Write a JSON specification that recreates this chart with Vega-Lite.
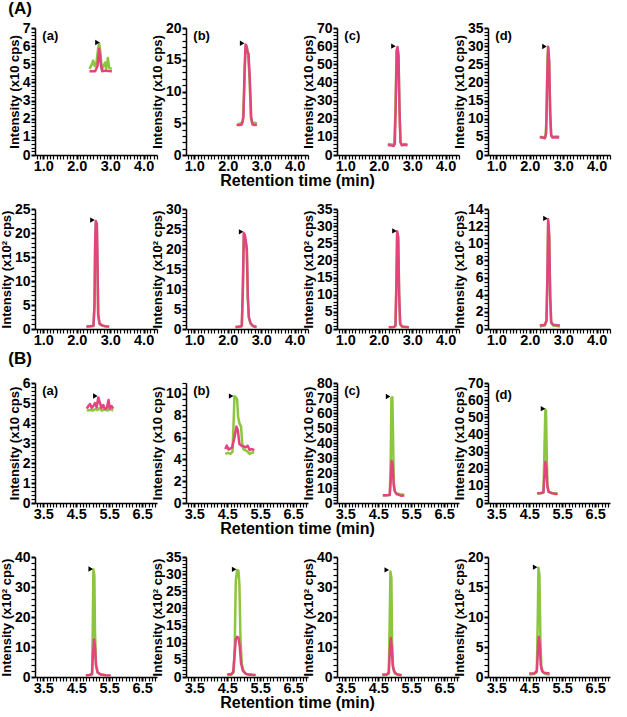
{
"$schema": "https://vega.github.io/schema/vega-lite/v6.json",
"padding": {"left": 0, "top": 0, "right": 2, "bottom": 2},
"background": "white",
"datasets": {
"tr": [
{"p":"A1a","s":"g","t":2.38,"v":4.75},{"p":"A1a","s":"g","t":2.44,"v":4.95},{"p":"A1a","s":"g","t":2.49,"v":5.2},{"p":"A1a","s":"g","t":2.54,"v":4.9},{"p":"A1a","s":"g","t":2.59,"v":5.1},{"p":"A1a","s":"g","t":2.64,"v":5.9},{"p":"A1a","s":"g","t":2.67,"v":6.15},{"p":"A1a","s":"g","t":2.71,"v":5.6},{"p":"A1a","s":"g","t":2.75,"v":4.7},{"p":"A1a","s":"g","t":2.8,"v":4.9},{"p":"A1a","s":"g","t":2.85,"v":5.1},{"p":"A1a","s":"g","t":2.88,"v":4.75},{"p":"A1a","s":"g","t":2.93,"v":5.35},{"p":"A1a","s":"g","t":2.97,"v":4.8},{"p":"A1a","s":"g","t":3.05,"v":4.75},
{"p":"A1a","s":"p","t":2.38,"v":4.62},{"p":"A1a","s":"p","t":2.55,"v":4.62},{"p":"A1a","s":"p","t":2.62,"v":4.9},{"p":"A1a","s":"p","t":2.67,"v":5.85},{"p":"A1a","s":"p","t":2.72,"v":5.0},{"p":"A1a","s":"p","t":2.76,"v":4.62},{"p":"A1a","s":"p","t":2.85,"v":4.65},{"p":"A1a","s":"p","t":3.05,"v":4.62},
{"p":"A1b","s":"g","t":2.27,"v":4.6},{"p":"A1b","s":"g","t":2.35,"v":4.9},{"p":"A1b","s":"g","t":2.45,"v":5.2},{"p":"A1b","s":"g","t":2.49,"v":10},{"p":"A1b","s":"g","t":2.53,"v":16.8},{"p":"A1b","s":"g","t":2.57,"v":17.0},{"p":"A1b","s":"g","t":2.61,"v":15.8},{"p":"A1b","s":"g","t":2.65,"v":12},{"p":"A1b","s":"g","t":2.69,"v":6},{"p":"A1b","s":"g","t":2.73,"v":5.0},{"p":"A1b","s":"g","t":2.8,"v":5.1},{"p":"A1b","s":"g","t":2.87,"v":4.9},
{"p":"A1b","s":"p","t":2.27,"v":4.8},{"p":"A1b","s":"p","t":2.35,"v":4.7},{"p":"A1b","s":"p","t":2.42,"v":4.8},{"p":"A1b","s":"p","t":2.47,"v":6},{"p":"A1b","s":"p","t":2.5,"v":13},{"p":"A1b","s":"p","t":2.53,"v":17.4},{"p":"A1b","s":"p","t":2.56,"v":17.2},{"p":"A1b","s":"p","t":2.59,"v":16.2},{"p":"A1b","s":"p","t":2.62,"v":16.0},{"p":"A1b","s":"p","t":2.66,"v":12},{"p":"A1b","s":"p","t":2.7,"v":6},{"p":"A1b","s":"p","t":2.74,"v":4.8},{"p":"A1b","s":"p","t":2.8,"v":4.7},{"p":"A1b","s":"p","t":2.87,"v":4.8},
{"p":"A1c","s":"g","t":2.27,"v":6.0},{"p":"A1c","s":"g","t":2.4,"v":5.8},{"p":"A1c","s":"g","t":2.46,"v":5.6},{"p":"A1c","s":"g","t":2.5,"v":25},{"p":"A1c","s":"g","t":2.53,"v":57},{"p":"A1c","s":"g","t":2.56,"v":59},{"p":"A1c","s":"g","t":2.59,"v":54},{"p":"A1c","s":"g","t":2.62,"v":24},{"p":"A1c","s":"g","t":2.65,"v":7},{"p":"A1c","s":"g","t":2.7,"v":5.8},{"p":"A1c","s":"g","t":2.8,"v":6.0},{"p":"A1c","s":"g","t":2.86,"v":5.8},
{"p":"A1c","s":"p","t":2.27,"v":5.5},{"p":"A1c","s":"p","t":2.35,"v":5.3},{"p":"A1c","s":"p","t":2.44,"v":5.0},{"p":"A1c","s":"p","t":2.48,"v":6},{"p":"A1c","s":"p","t":2.51,"v":30},{"p":"A1c","s":"p","t":2.54,"v":58},{"p":"A1c","s":"p","t":2.56,"v":59.5},{"p":"A1c","s":"p","t":2.59,"v":55},{"p":"A1c","s":"p","t":2.62,"v":25},{"p":"A1c","s":"p","t":2.65,"v":7},{"p":"A1c","s":"p","t":2.69,"v":5.3},{"p":"A1c","s":"p","t":2.78,"v":5.6},{"p":"A1c","s":"p","t":2.86,"v":5.4},
{"p":"A1d","s":"g","t":2.3,"v":5.0},{"p":"A1d","s":"g","t":2.4,"v":4.9},{"p":"A1d","s":"g","t":2.47,"v":5.0},{"p":"A1d","s":"g","t":2.5,"v":10},{"p":"A1d","s":"g","t":2.53,"v":27},{"p":"A1d","s":"g","t":2.55,"v":29.5},{"p":"A1d","s":"g","t":2.58,"v":25},{"p":"A1d","s":"g","t":2.61,"v":11},{"p":"A1d","s":"g","t":2.64,"v":5.3},{"p":"A1d","s":"g","t":2.7,"v":5.0},{"p":"A1d","s":"g","t":2.8,"v":5.1},{"p":"A1d","s":"g","t":2.88,"v":5.0},
{"p":"A1d","s":"p","t":2.3,"v":4.9},{"p":"A1d","s":"p","t":2.38,"v":4.8},{"p":"A1d","s":"p","t":2.45,"v":4.6},{"p":"A1d","s":"p","t":2.49,"v":6},{"p":"A1d","s":"p","t":2.52,"v":20},{"p":"A1d","s":"p","t":2.55,"v":29.8},{"p":"A1d","s":"p","t":2.58,"v":26},{"p":"A1d","s":"p","t":2.61,"v":12},{"p":"A1d","s":"p","t":2.64,"v":5.5},{"p":"A1d","s":"p","t":2.68,"v":4.8},{"p":"A1d","s":"p","t":2.78,"v":4.9},{"p":"A1d","s":"p","t":2.88,"v":4.8},
{"p":"A2a","s":"g","t":2.29,"v":0.4},{"p":"A2a","s":"g","t":2.4,"v":0.5},{"p":"A2a","s":"g","t":2.5,"v":0.6},{"p":"A2a","s":"g","t":2.53,"v":5},{"p":"A2a","s":"g","t":2.55,"v":17},{"p":"A2a","s":"g","t":2.57,"v":22},{"p":"A2a","s":"g","t":2.6,"v":21.5},{"p":"A2a","s":"g","t":2.62,"v":13},{"p":"A2a","s":"g","t":2.64,"v":3},{"p":"A2a","s":"g","t":2.68,"v":1.0},{"p":"A2a","s":"g","t":2.75,"v":0.7},{"p":"A2a","s":"g","t":2.85,"v":0.5},{"p":"A2a","s":"g","t":2.97,"v":0.4},
{"p":"A2a","s":"p","t":2.29,"v":0.5},{"p":"A2a","s":"p","t":2.4,"v":0.6},{"p":"A2a","s":"p","t":2.5,"v":0.7},{"p":"A2a","s":"p","t":2.53,"v":5},{"p":"A2a","s":"p","t":2.55,"v":18},{"p":"A2a","s":"p","t":2.57,"v":22.5},{"p":"A2a","s":"p","t":2.6,"v":22},{"p":"A2a","s":"p","t":2.62,"v":14},{"p":"A2a","s":"p","t":2.64,"v":3},{"p":"A2a","s":"p","t":2.68,"v":1.2},{"p":"A2a","s":"p","t":2.75,"v":0.8},{"p":"A2a","s":"p","t":2.85,"v":0.6},{"p":"A2a","s":"p","t":2.97,"v":0.5},
{"p":"A2b","s":"g","t":2.23,"v":0.4},{"p":"A2b","s":"g","t":2.35,"v":0.5},{"p":"A2b","s":"g","t":2.42,"v":0.7},{"p":"A2b","s":"g","t":2.45,"v":9},{"p":"A2b","s":"g","t":2.48,"v":23.5},{"p":"A2b","s":"g","t":2.51,"v":23},{"p":"A2b","s":"g","t":2.54,"v":21.5},{"p":"A2b","s":"g","t":2.57,"v":19.5},{"p":"A2b","s":"g","t":2.6,"v":7.5},{"p":"A2b","s":"g","t":2.63,"v":2.8},{"p":"A2b","s":"g","t":2.68,"v":1.3},{"p":"A2b","s":"g","t":2.75,"v":0.7},{"p":"A2b","s":"g","t":2.86,"v":0.4},
{"p":"A2b","s":"p","t":2.23,"v":0.5},{"p":"A2b","s":"p","t":2.35,"v":0.6},{"p":"A2b","s":"p","t":2.42,"v":0.8},{"p":"A2b","s":"p","t":2.45,"v":10},{"p":"A2b","s":"p","t":2.48,"v":24},{"p":"A2b","s":"p","t":2.51,"v":23.5},{"p":"A2b","s":"p","t":2.54,"v":22},{"p":"A2b","s":"p","t":2.57,"v":20},{"p":"A2b","s":"p","t":2.6,"v":8},{"p":"A2b","s":"p","t":2.63,"v":3},{"p":"A2b","s":"p","t":2.68,"v":1.5},{"p":"A2b","s":"p","t":2.75,"v":0.8},{"p":"A2b","s":"p","t":2.86,"v":0.5},
{"p":"A2c","s":"g","t":2.3,"v":0.4},{"p":"A2c","s":"g","t":2.45,"v":0.5},{"p":"A2c","s":"g","t":2.5,"v":0.9},{"p":"A2c","s":"g","t":2.53,"v":14},{"p":"A2c","s":"g","t":2.55,"v":28},{"p":"A2c","s":"g","t":2.58,"v":26.5},{"p":"A2c","s":"g","t":2.61,"v":9.5},{"p":"A2c","s":"g","t":2.64,"v":1.3},{"p":"A2c","s":"g","t":2.7,"v":0.6},{"p":"A2c","s":"g","t":2.9,"v":0.4},
{"p":"A2c","s":"p","t":2.3,"v":0.5},{"p":"A2c","s":"p","t":2.45,"v":0.6},{"p":"A2c","s":"p","t":2.5,"v":1},{"p":"A2c","s":"p","t":2.53,"v":15},{"p":"A2c","s":"p","t":2.55,"v":28.5},{"p":"A2c","s":"p","t":2.58,"v":27},{"p":"A2c","s":"p","t":2.61,"v":10},{"p":"A2c","s":"p","t":2.64,"v":1.5},{"p":"A2c","s":"p","t":2.7,"v":0.7},{"p":"A2c","s":"p","t":2.9,"v":0.5},
{"p":"A2d","s":"g","t":2.3,"v":0.3},{"p":"A2d","s":"g","t":2.45,"v":0.4},{"p":"A2d","s":"g","t":2.5,"v":0.9},{"p":"A2d","s":"g","t":2.53,"v":6.5},{"p":"A2d","s":"g","t":2.55,"v":12.5},{"p":"A2d","s":"g","t":2.58,"v":10.8},{"p":"A2d","s":"g","t":2.61,"v":3.8},{"p":"A2d","s":"g","t":2.64,"v":0.7},{"p":"A2d","s":"g","t":2.7,"v":0.4},{"p":"A2d","s":"g","t":2.9,"v":0.3},
{"p":"A2d","s":"p","t":2.3,"v":0.4},{"p":"A2d","s":"p","t":2.45,"v":0.5},{"p":"A2d","s":"p","t":2.5,"v":1},{"p":"A2d","s":"p","t":2.53,"v":7},{"p":"A2d","s":"p","t":2.55,"v":12.8},{"p":"A2d","s":"p","t":2.58,"v":11},{"p":"A2d","s":"p","t":2.61,"v":4},{"p":"A2d","s":"p","t":2.64,"v":0.8},{"p":"A2d","s":"p","t":2.7,"v":0.5},{"p":"A2d","s":"p","t":2.9,"v":0.4},
{"p":"B1a","s":"g","t":4.82,"v":4.62},{"p":"B1a","s":"g","t":4.9,"v":4.65},{"p":"B1a","s":"g","t":5.0,"v":4.62},{"p":"B1a","s":"g","t":5.08,"v":4.7},{"p":"B1a","s":"g","t":5.15,"v":4.65},{"p":"B1a","s":"g","t":5.2,"v":4.75},{"p":"B1a","s":"g","t":5.28,"v":4.62},{"p":"B1a","s":"g","t":5.35,"v":4.68},{"p":"B1a","s":"g","t":5.45,"v":4.62},{"p":"B1a","s":"g","t":5.52,"v":4.7},{"p":"B1a","s":"g","t":5.62,"v":4.62},
{"p":"B1a","s":"p","t":4.82,"v":4.72},{"p":"B1a","s":"p","t":4.87,"v":4.85},{"p":"B1a","s":"p","t":4.92,"v":4.95},{"p":"B1a","s":"p","t":4.97,"v":4.75},{"p":"B1a","s":"p","t":5.02,"v":4.85},{"p":"B1a","s":"p","t":5.07,"v":5.0},{"p":"B1a","s":"p","t":5.12,"v":4.78},{"p":"B1a","s":"p","t":5.17,"v":5.28},{"p":"B1a","s":"p","t":5.22,"v":5.0},{"p":"B1a","s":"p","t":5.27,"v":4.75},{"p":"B1a","s":"p","t":5.32,"v":4.9},{"p":"B1a","s":"p","t":5.37,"v":4.7},{"p":"B1a","s":"p","t":5.43,"v":4.75},{"p":"B1a","s":"p","t":5.48,"v":5.15},{"p":"B1a","s":"p","t":5.52,"v":4.72},{"p":"B1a","s":"p","t":5.57,"v":4.85},{"p":"B1a","s":"p","t":5.62,"v":4.72},
{"p":"B1b","s":"g","t":4.44,"v":4.5},{"p":"B1b","s":"g","t":4.52,"v":4.6},{"p":"B1b","s":"g","t":4.6,"v":4.5},{"p":"B1b","s":"g","t":4.66,"v":4.7},{"p":"B1b","s":"g","t":4.69,"v":7},{"p":"B1b","s":"g","t":4.72,"v":9.8},{"p":"B1b","s":"g","t":4.76,"v":9.7},{"p":"B1b","s":"g","t":4.8,"v":9.5},{"p":"B1b","s":"g","t":4.83,"v":7.9},{"p":"B1b","s":"g","t":4.87,"v":7.3},{"p":"B1b","s":"g","t":4.92,"v":7.0},{"p":"B1b","s":"g","t":4.96,"v":5.2},{"p":"B1b","s":"g","t":5.0,"v":4.9},{"p":"B1b","s":"g","t":5.08,"v":4.8},{"p":"B1b","s":"g","t":5.18,"v":4.5},{"p":"B1b","s":"g","t":5.27,"v":4.65},{"p":"B1b","s":"g","t":5.32,"v":4.6},
{"p":"B1b","s":"p","t":4.44,"v":4.95},{"p":"B1b","s":"p","t":4.49,"v":5.26},{"p":"B1b","s":"p","t":4.54,"v":4.9},{"p":"B1b","s":"p","t":4.6,"v":5.0},{"p":"B1b","s":"p","t":4.65,"v":5.1},{"p":"B1b","s":"p","t":4.72,"v":6.0},{"p":"B1b","s":"p","t":4.78,"v":7.0},{"p":"B1b","s":"p","t":4.82,"v":6.7},{"p":"B1b","s":"p","t":4.87,"v":5.4},{"p":"B1b","s":"p","t":4.93,"v":5.26},{"p":"B1b","s":"p","t":5.0,"v":5.2},{"p":"B1b","s":"p","t":5.06,"v":5.1},{"p":"B1b","s":"p","t":5.12,"v":5.25},{"p":"B1b","s":"p","t":5.18,"v":4.85},{"p":"B1b","s":"p","t":5.24,"v":4.95},{"p":"B1b","s":"p","t":5.32,"v":4.85},
{"p":"B1c","s":"g","t":4.64,"v":5},{"p":"B1c","s":"g","t":4.75,"v":5.2},{"p":"B1c","s":"g","t":4.85,"v":5.5},{"p":"B1c","s":"g","t":4.88,"v":30},{"p":"B1c","s":"g","t":4.9,"v":70},{"p":"B1c","s":"g","t":4.93,"v":70.5},{"p":"B1c","s":"g","t":4.95,"v":45},{"p":"B1c","s":"g","t":4.97,"v":15},{"p":"B1c","s":"g","t":5.0,"v":8},{"p":"B1c","s":"g","t":5.05,"v":6.5},{"p":"B1c","s":"g","t":5.15,"v":5.8},{"p":"B1c","s":"g","t":5.29,"v":5.5},
{"p":"B1c","s":"p","t":4.64,"v":5.2},{"p":"B1c","s":"p","t":4.75,"v":5.1},{"p":"B1c","s":"p","t":4.85,"v":5.3},{"p":"B1c","s":"p","t":4.88,"v":15},{"p":"B1c","s":"p","t":4.91,"v":28},{"p":"B1c","s":"p","t":4.94,"v":25},{"p":"B1c","s":"p","t":4.97,"v":12},{"p":"B1c","s":"p","t":5.0,"v":8},{"p":"B1c","s":"p","t":5.05,"v":6},{"p":"B1c","s":"p","t":5.15,"v":5.2},{"p":"B1c","s":"p","t":5.2,"v":4.8},{"p":"B1c","s":"p","t":5.29,"v":5.0},
{"p":"B1d","s":"g","t":4.74,"v":5.5},{"p":"B1d","s":"g","t":4.85,"v":5.6},{"p":"B1d","s":"g","t":4.93,"v":6},{"p":"B1d","s":"g","t":4.96,"v":30},{"p":"B1d","s":"g","t":4.99,"v":54.5},{"p":"B1d","s":"g","t":5.01,"v":54},{"p":"B1d","s":"g","t":5.03,"v":30},{"p":"B1d","s":"g","t":5.05,"v":10},{"p":"B1d","s":"g","t":5.09,"v":6.5},{"p":"B1d","s":"g","t":5.2,"v":5.8},{"p":"B1d","s":"g","t":5.36,"v":5.5},
{"p":"B1d","s":"p","t":4.74,"v":5.7},{"p":"B1d","s":"p","t":4.85,"v":5.8},{"p":"B1d","s":"p","t":4.93,"v":6.2},{"p":"B1d","s":"p","t":4.96,"v":15},{"p":"B1d","s":"p","t":4.99,"v":24},{"p":"B1d","s":"p","t":5.02,"v":21},{"p":"B1d","s":"p","t":5.05,"v":10},{"p":"B1d","s":"p","t":5.09,"v":6.5},{"p":"B1d","s":"p","t":5.2,"v":5.6},{"p":"B1d","s":"p","t":5.3,"v":5.2},{"p":"B1d","s":"p","t":5.36,"v":5.4},
{"p":"B2a","s":"g","t":4.9,"v":0.5},{"p":"B2a","s":"g","t":4.98,"v":0.8},{"p":"B2a","s":"g","t":5.0,"v":15},{"p":"B2a","s":"g","t":5.02,"v":35.8},{"p":"B2a","s":"g","t":5.05,"v":34},{"p":"B2a","s":"g","t":5.07,"v":15},{"p":"B2a","s":"g","t":5.1,"v":4},{"p":"B2a","s":"g","t":5.15,"v":1.5},{"p":"B2a","s":"g","t":5.25,"v":0.8},{"p":"B2a","s":"g","t":5.4,"v":0.5},{"p":"B2a","s":"g","t":5.5,"v":0.4},
{"p":"B2a","s":"p","t":4.79,"v":0.6},{"p":"B2a","s":"p","t":4.9,"v":0.7},{"p":"B2a","s":"p","t":4.98,"v":1},{"p":"B2a","s":"p","t":5.01,"v":8},{"p":"B2a","s":"p","t":5.04,"v":12.5},{"p":"B2a","s":"p","t":5.07,"v":10},{"p":"B2a","s":"p","t":5.1,"v":4},{"p":"B2a","s":"p","t":5.15,"v":1.5},{"p":"B2a","s":"p","t":5.25,"v":0.8},{"p":"B2a","s":"p","t":5.4,"v":0.6},{"p":"B2a","s":"p","t":5.55,"v":0.5},
{"p":"B2b","s":"g","t":4.5,"v":0.5},{"p":"B2b","s":"g","t":4.62,"v":0.6},{"p":"B2b","s":"g","t":4.7,"v":1.5},{"p":"B2b","s":"g","t":4.73,"v":10},{"p":"B2b","s":"g","t":4.76,"v":28},{"p":"B2b","s":"g","t":4.8,"v":31.2},{"p":"B2b","s":"g","t":4.84,"v":31.0},{"p":"B2b","s":"g","t":4.87,"v":27},{"p":"B2b","s":"g","t":4.9,"v":12},{"p":"B2b","s":"g","t":4.94,"v":4},{"p":"B2b","s":"g","t":5.0,"v":1.5},{"p":"B2b","s":"g","t":5.1,"v":0.8},{"p":"B2b","s":"g","t":5.25,"v":0.6},{"p":"B2b","s":"g","t":5.36,"v":0.5},
{"p":"B2b","s":"p","t":4.5,"v":0.8},{"p":"B2b","s":"p","t":4.62,"v":0.8},{"p":"B2b","s":"p","t":4.68,"v":1.5},{"p":"B2b","s":"p","t":4.72,"v":6},{"p":"B2b","s":"p","t":4.76,"v":11},{"p":"B2b","s":"p","t":4.8,"v":11.7},{"p":"B2b","s":"p","t":4.84,"v":11.5},{"p":"B2b","s":"p","t":4.88,"v":9},{"p":"B2b","s":"p","t":4.92,"v":4},{"p":"B2b","s":"p","t":4.97,"v":2},{"p":"B2b","s":"p","t":5.05,"v":1},{"p":"B2b","s":"p","t":5.15,"v":0.7},{"p":"B2b","s":"p","t":5.36,"v":0.6},
{"p":"B2c","s":"g","t":4.62,"v":0.5},{"p":"B2c","s":"g","t":4.75,"v":0.6},{"p":"B2c","s":"g","t":4.82,"v":1},{"p":"B2c","s":"g","t":4.85,"v":20},{"p":"B2c","s":"g","t":4.87,"v":35.2},{"p":"B2c","s":"g","t":4.9,"v":33},{"p":"B2c","s":"g","t":4.92,"v":12},{"p":"B2c","s":"g","t":4.95,"v":3},{"p":"B2c","s":"g","t":5.0,"v":1.2},{"p":"B2c","s":"g","t":5.1,"v":0.7},{"p":"B2c","s":"g","t":5.21,"v":0.5},
{"p":"B2c","s":"p","t":4.62,"v":0.8},{"p":"B2c","s":"p","t":4.75,"v":0.8},{"p":"B2c","s":"p","t":4.82,"v":1.5},{"p":"B2c","s":"p","t":4.85,"v":8},{"p":"B2c","s":"p","t":4.88,"v":13},{"p":"B2c","s":"p","t":4.91,"v":10},{"p":"B2c","s":"p","t":4.94,"v":4},{"p":"B2c","s":"p","t":4.98,"v":2},{"p":"B2c","s":"p","t":5.05,"v":1},{"p":"B2c","s":"p","t":5.21,"v":0.6},
{"p":"B2d","s":"g","t":4.5,"v":0.4},{"p":"B2d","s":"g","t":4.65,"v":0.5},{"p":"B2d","s":"g","t":4.73,"v":0.8},{"p":"B2d","s":"g","t":4.76,"v":10},{"p":"B2d","s":"g","t":4.78,"v":18.2},{"p":"B2d","s":"g","t":4.81,"v":17},{"p":"B2d","s":"g","t":4.84,"v":6},{"p":"B2d","s":"g","t":4.87,"v":1.5},{"p":"B2d","s":"g","t":4.92,"v":0.8},{"p":"B2d","s":"g","t":5.0,"v":0.5},{"p":"B2d","s":"g","t":5.12,"v":0.4},
{"p":"B2d","s":"p","t":4.5,"v":0.6},{"p":"B2d","s":"p","t":4.65,"v":0.6},{"p":"B2d","s":"p","t":4.73,"v":1},{"p":"B2d","s":"p","t":4.76,"v":4},{"p":"B2d","s":"p","t":4.79,"v":6.7},{"p":"B2d","s":"p","t":4.82,"v":5.5},{"p":"B2d","s":"p","t":4.85,"v":2},{"p":"B2d","s":"p","t":4.89,"v":1},{"p":"B2d","s":"p","t":4.95,"v":0.7},{"p":"B2d","s":"p","t":5.12,"v":0.6}
],
"mk": [
{"p":"A1a","t":2.62,"v":6.2},{"p":"A1b","t":2.43,"v":17.6},{"p":"A1c","t":2.44,"v":60},{"p":"A1d","t":2.44,"v":29.9},
{"p":"A2a","t":2.47,"v":22.7},{"p":"A2b","t":2.4,"v":24.3},{"p":"A2c","t":2.47,"v":28.6},{"p":"A2d","t":2.47,"v":12.9},
{"p":"B1a","t":5.08,"v":5.35},{"p":"B1b","t":4.62,"v":9.8},{"p":"B1c","t":4.8,"v":71},{"p":"B1d","t":4.92,"v":55},
{"p":"B2a","t":4.94,"v":36},{"p":"B2b","t":4.71,"v":31.4},{"p":"B2c","t":4.76,"v":35.7},{"p":"B2d","t":4.68,"v":18.3}
]
},
"concat": [
{"width":122,"height":127,"title":{"text":"(A)","anchor":"start","frame":"bounds","offset":3},
 "layer":[
 {"data":{"name":"tr"},"transform":[{"filter":"datum.p=='A1a'"}],"mark":{"type":"line","strokeWidth":2.5,"strokeJoin":"round"},
  "encoding":{"x":{"field":"t","type":"quantitative","scale":{"domain":[0.75,4.4],"nice":false,"zero":false},"axis":{"tickCount":37,"labelExpr":"abs(datum.value-round(datum.value))<0.001?format(datum.value,'.1f'):''","tickWidth":{"condition":{"test":"abs(datum.value-round(datum.value))<0.001","value":2},"value":1.2},"title":null}},
  "y":{"field":"v","type":"quantitative","scale":{"domain":[0,7],"nice":false},"axis":{"tickCount":35,"labelExpr":"abs(datum.value/1-round(datum.value/1))<0.001?format(datum.value,'d'):''","tickWidth":{"condition":{"test":"abs(datum.value/1-round(datum.value/1))<0.001","value":2},"value":1.2},"title":"Intensity (x10 cps)"}},
  "color":{"field":"s","type":"nominal","scale":{"domain":["g","p"],"range":["#8cc63f","#e2457e"]},"legend":null}}},
 {"data":{"name":"mk"},"transform":[{"filter":"datum.p=='A1a'"}],"mark":{"type":"point","shape":"triangle-right","filled":true,"color":"#000","opacity":1,"size":28},"encoding":{"x":{"field":"t","type":"quantitative"},"y":{"field":"v","type":"quantitative"}}},
 {"data":{"values":[{"lab":"(a)"}]},"mark":{"type":"text","align":"left","baseline":"top","dy":2},"encoding":{"x":{"datum":0.97},"y":{"datum":7},"text":{"field":"lab"}}}
 ]},
{"width":122,"height":127,
 "layer":[
 {"data":{"name":"tr"},"transform":[{"filter":"datum.p=='A1b'"}],"mark":{"type":"line","strokeWidth":2.5,"strokeJoin":"round"},
  "encoding":{"x":{"field":"t","type":"quantitative","scale":{"domain":[0.75,4.4],"nice":false,"zero":false},"axis":{"tickCount":37,"labelExpr":"abs(datum.value-round(datum.value))<0.001?format(datum.value,'.1f'):''","tickWidth":{"condition":{"test":"abs(datum.value-round(datum.value))<0.001","value":2},"value":1.2},"title":"Retention time (min)","titleX":111,"titleFontSize":16,"titleAlign":"center","titlePadding":0}},
  "y":{"field":"v","type":"quantitative","scale":{"domain":[0,20],"nice":false},"axis":{"tickCount":20,"labelExpr":"abs(datum.value/5-round(datum.value/5))<0.001?format(datum.value,'d'):''","tickWidth":{"condition":{"test":"abs(datum.value/5-round(datum.value/5))<0.001","value":2},"value":1.2},"title":"Intensity (x10 cps)"}},
  "color":{"field":"s","type":"nominal","scale":{"domain":["g","p"],"range":["#8cc63f","#e2457e"]},"legend":null}}},
 {"data":{"name":"mk"},"transform":[{"filter":"datum.p=='A1b'"}],"mark":{"type":"point","shape":"triangle-right","filled":true,"color":"#000","opacity":1,"size":28},"encoding":{"x":{"field":"t","type":"quantitative"},"y":{"field":"v","type":"quantitative"}}},
 {"data":{"values":[{"lab":"(b)"}]},"mark":{"type":"text","align":"left","baseline":"top","dy":2},"encoding":{"x":{"datum":0.97},"y":{"datum":20},"text":{"field":"lab"}}}
 ]},
{"width":122,"height":127,
 "layer":[
 {"data":{"name":"tr"},"transform":[{"filter":"datum.p=='A1c'"}],"mark":{"type":"line","strokeWidth":2.5,"strokeJoin":"round"},
  "encoding":{"x":{"field":"t","type":"quantitative","scale":{"domain":[0.75,4.4],"nice":false,"zero":false},"axis":{"tickCount":37,"labelExpr":"abs(datum.value-round(datum.value))<0.001?format(datum.value,'.1f'):''","tickWidth":{"condition":{"test":"abs(datum.value-round(datum.value))<0.001","value":2},"value":1.2},"title":null}},
  "y":{"field":"v","type":"quantitative","scale":{"domain":[0,70],"nice":false},"axis":{"tickCount":35,"labelExpr":"abs(datum.value/10-round(datum.value/10))<0.001?format(datum.value,'d'):''","tickWidth":{"condition":{"test":"abs(datum.value/10-round(datum.value/10))<0.001","value":2},"value":1.2},"title":"Intensity (x10 cps)"}},
  "color":{"field":"s","type":"nominal","scale":{"domain":["g","p"],"range":["#8cc63f","#e2457e"]},"legend":null}}},
 {"data":{"name":"mk"},"transform":[{"filter":"datum.p=='A1c'"}],"mark":{"type":"point","shape":"triangle-right","filled":true,"color":"#000","opacity":1,"size":28},"encoding":{"x":{"field":"t","type":"quantitative"},"y":{"field":"v","type":"quantitative"}}},
 {"data":{"values":[{"lab":"(c)"}]},"mark":{"type":"text","align":"left","baseline":"top","dy":2},"encoding":{"x":{"datum":0.97},"y":{"datum":70},"text":{"field":"lab"}}}
 ]},
{"width":122,"height":127,
 "layer":[
 {"data":{"name":"tr"},"transform":[{"filter":"datum.p=='A1d'"}],"mark":{"type":"line","strokeWidth":2.5,"strokeJoin":"round"},
  "encoding":{"x":{"field":"t","type":"quantitative","scale":{"domain":[0.75,4.4],"nice":false,"zero":false},"axis":{"tickCount":37,"labelExpr":"abs(datum.value-round(datum.value))<0.001?format(datum.value,'.1f'):''","tickWidth":{"condition":{"test":"abs(datum.value-round(datum.value))<0.001","value":2},"value":1.2},"title":null}},
  "y":{"field":"v","type":"quantitative","scale":{"domain":[0,35],"nice":false},"axis":{"tickCount":35,"labelExpr":"abs(datum.value/5-round(datum.value/5))<0.001?format(datum.value,'d'):''","tickWidth":{"condition":{"test":"abs(datum.value/5-round(datum.value/5))<0.001","value":2},"value":1.2},"title":"Intensity (x10 cps)"}},
  "color":{"field":"s","type":"nominal","scale":{"domain":["g","p"],"range":["#8cc63f","#e2457e"]},"legend":null}}},
 {"data":{"name":"mk"},"transform":[{"filter":"datum.p=='A1d'"}],"mark":{"type":"point","shape":"triangle-right","filled":true,"color":"#000","opacity":1,"size":28},"encoding":{"x":{"field":"t","type":"quantitative"},"y":{"field":"v","type":"quantitative"}}},
 {"data":{"values":[{"lab":"(d)"}]},"mark":{"type":"text","align":"left","baseline":"top","dy":2},"encoding":{"x":{"datum":0.97},"y":{"datum":35},"text":{"field":"lab"}}}
 ]},
{"width":122,"height":120,
 "layer":[
 {"data":{"name":"tr"},"transform":[{"filter":"datum.p=='A2a'"}],"mark":{"type":"line","strokeWidth":2.5,"strokeJoin":"round"},
  "encoding":{"x":{"field":"t","type":"quantitative","scale":{"domain":[0.75,4.4],"nice":false,"zero":false},"axis":{"tickCount":37,"labelExpr":"abs(datum.value-round(datum.value))<0.001?format(datum.value,'.1f'):''","tickWidth":{"condition":{"test":"abs(datum.value-round(datum.value))<0.001","value":2},"value":1.2},"title":null}},
  "y":{"field":"v","type":"quantitative","scale":{"domain":[0,25],"nice":false},"axis":{"tickCount":25,"labelExpr":"abs(datum.value/5-round(datum.value/5))<0.001?format(datum.value,'d'):''","tickWidth":{"condition":{"test":"abs(datum.value/5-round(datum.value/5))<0.001","value":2},"value":1.2},"title":"Intensity (x10² cps)"}},
  "color":{"field":"s","type":"nominal","scale":{"domain":["g","p"],"range":["#8cc63f","#e2457e"]},"legend":null}}},
 {"data":{"name":"mk"},"transform":[{"filter":"datum.p=='A2a'"}],"mark":{"type":"point","shape":"triangle-right","filled":true,"color":"#000","opacity":1,"size":28},"encoding":{"x":{"field":"t","type":"quantitative"},"y":{"field":"v","type":"quantitative"}}}
 ]},
{"width":122,"height":120,
 "layer":[
 {"data":{"name":"tr"},"transform":[{"filter":"datum.p=='A2b'"}],"mark":{"type":"line","strokeWidth":2.5,"strokeJoin":"round"},
  "encoding":{"x":{"field":"t","type":"quantitative","scale":{"domain":[0.75,4.4],"nice":false,"zero":false},"axis":{"tickCount":37,"labelExpr":"abs(datum.value-round(datum.value))<0.001?format(datum.value,'.1f'):''","tickWidth":{"condition":{"test":"abs(datum.value-round(datum.value))<0.001","value":2},"value":1.2},"title":null}},
  "y":{"field":"v","type":"quantitative","scale":{"domain":[0,30],"nice":false},"axis":{"tickCount":30,"labelExpr":"abs(datum.value/5-round(datum.value/5))<0.001?format(datum.value,'d'):''","tickWidth":{"condition":{"test":"abs(datum.value/5-round(datum.value/5))<0.001","value":2},"value":1.2},"title":"Intensity (x10² cps)"}},
  "color":{"field":"s","type":"nominal","scale":{"domain":["g","p"],"range":["#8cc63f","#e2457e"]},"legend":null}}},
 {"data":{"name":"mk"},"transform":[{"filter":"datum.p=='A2b'"}],"mark":{"type":"point","shape":"triangle-right","filled":true,"color":"#000","opacity":1,"size":28},"encoding":{"x":{"field":"t","type":"quantitative"},"y":{"field":"v","type":"quantitative"}}}
 ]},
{"width":122,"height":120,
 "layer":[
 {"data":{"name":"tr"},"transform":[{"filter":"datum.p=='A2c'"}],"mark":{"type":"line","strokeWidth":2.5,"strokeJoin":"round"},
  "encoding":{"x":{"field":"t","type":"quantitative","scale":{"domain":[0.75,4.4],"nice":false,"zero":false},"axis":{"tickCount":37,"labelExpr":"abs(datum.value-round(datum.value))<0.001?format(datum.value,'.1f'):''","tickWidth":{"condition":{"test":"abs(datum.value-round(datum.value))<0.001","value":2},"value":1.2},"title":null}},
  "y":{"field":"v","type":"quantitative","scale":{"domain":[0,35],"nice":false},"axis":{"tickCount":35,"labelExpr":"abs(datum.value/5-round(datum.value/5))<0.001?format(datum.value,'d'):''","tickWidth":{"condition":{"test":"abs(datum.value/5-round(datum.value/5))<0.001","value":2},"value":1.2},"title":"Intensity (x10² cps)"}},
  "color":{"field":"s","type":"nominal","scale":{"domain":["g","p"],"range":["#8cc63f","#e2457e"]},"legend":null}}},
 {"data":{"name":"mk"},"transform":[{"filter":"datum.p=='A2c'"}],"mark":{"type":"point","shape":"triangle-right","filled":true,"color":"#000","opacity":1,"size":28},"encoding":{"x":{"field":"t","type":"quantitative"},"y":{"field":"v","type":"quantitative"}}}
 ]},
{"width":122,"height":120,
 "layer":[
 {"data":{"name":"tr"},"transform":[{"filter":"datum.p=='A2d'"}],"mark":{"type":"line","strokeWidth":2.5,"strokeJoin":"round"},
  "encoding":{"x":{"field":"t","type":"quantitative","scale":{"domain":[0.75,4.4],"nice":false,"zero":false},"axis":{"tickCount":37,"labelExpr":"abs(datum.value-round(datum.value))<0.001?format(datum.value,'.1f'):''","tickWidth":{"condition":{"test":"abs(datum.value-round(datum.value))<0.001","value":2},"value":1.2},"title":null}},
  "y":{"field":"v","type":"quantitative","scale":{"domain":[0,14],"nice":false},"axis":{"tickCount":28,"labelExpr":"abs(datum.value/2-round(datum.value/2))<0.001?format(datum.value,'d'):''","tickWidth":{"condition":{"test":"abs(datum.value/2-round(datum.value/2))<0.001","value":2},"value":1.2},"title":"Intensity (x10² cps)"}},
  "color":{"field":"s","type":"nominal","scale":{"domain":["g","p"],"range":["#8cc63f","#e2457e"]},"legend":null}}},
 {"data":{"name":"mk"},"transform":[{"filter":"datum.p=='A2d'"}],"mark":{"type":"point","shape":"triangle-right","filled":true,"color":"#000","opacity":1,"size":28},"encoding":{"x":{"field":"t","type":"quantitative"},"y":{"field":"v","type":"quantitative"}}}
 ]},
{"width":122,"height":120,"title":{"text":"(B)","anchor":"start","frame":"bounds","offset":8},
 "layer":[
 {"data":{"name":"tr"},"transform":[{"filter":"datum.p=='B1a'"}],"mark":{"type":"line","strokeWidth":2.5,"strokeJoin":"round"},
  "encoding":{"x":{"field":"t","type":"quantitative","scale":{"domain":[3.25,6.95],"nice":false,"zero":false},"axis":{"tickCount":37,"labelExpr":"abs(datum.value-0.5-round(datum.value-0.5))<0.001?format(datum.value,'.1f'):''","tickWidth":{"condition":{"test":"abs(datum.value-0.5-round(datum.value-0.5))<0.001","value":2},"value":1.2},"title":null}},
  "y":{"field":"v","type":"quantitative","scale":{"domain":[0,6],"nice":false},"axis":{"tickCount":30,"labelExpr":"abs(datum.value/1-round(datum.value/1))<0.001?format(datum.value,'d'):''","tickWidth":{"condition":{"test":"abs(datum.value/1-round(datum.value/1))<0.001","value":2},"value":1.2},"title":"Intensity (x10 cps)"}},
  "color":{"field":"s","type":"nominal","scale":{"domain":["g","p"],"range":["#8cc63f","#e2457e"]},"legend":null}}},
 {"data":{"name":"mk"},"transform":[{"filter":"datum.p=='B1a'"}],"mark":{"type":"point","shape":"triangle-right","filled":true,"color":"#000","opacity":1,"size":28},"encoding":{"x":{"field":"t","type":"quantitative"},"y":{"field":"v","type":"quantitative"}}},
 {"data":{"values":[{"lab":"(a)"}]},"mark":{"type":"text","align":"left","baseline":"top","dy":2},"encoding":{"x":{"datum":3.47},"y":{"datum":6},"text":{"field":"lab"}}}
 ]},
{"width":122,"height":120,
 "layer":[
 {"data":{"name":"tr"},"transform":[{"filter":"datum.p=='B1b'"}],"mark":{"type":"line","strokeWidth":2.5,"strokeJoin":"round"},
  "encoding":{"x":{"field":"t","type":"quantitative","scale":{"domain":[3.25,6.95],"nice":false,"zero":false},"axis":{"tickCount":37,"labelExpr":"abs(datum.value-0.5-round(datum.value-0.5))<0.001?format(datum.value,'.1f'):''","tickWidth":{"condition":{"test":"abs(datum.value-0.5-round(datum.value-0.5))<0.001","value":2},"value":1.2},"title":"Retention time (min)","titleX":111,"titleFontSize":16,"titleAlign":"center","titlePadding":0}},
  "y":{"field":"v","type":"quantitative","scale":{"domain":[0,11],"nice":false},"axis":{"tickCount":22,"labelExpr":"abs(datum.value/2-round(datum.value/2))<0.001?format(datum.value,'d'):''","tickWidth":{"condition":{"test":"abs(datum.value/2-round(datum.value/2))<0.001","value":2},"value":1.2},"title":"Intensity (x10 cps)"}},
  "color":{"field":"s","type":"nominal","scale":{"domain":["g","p"],"range":["#8cc63f","#e2457e"]},"legend":null}}},
 {"data":{"name":"mk"},"transform":[{"filter":"datum.p=='B1b'"}],"mark":{"type":"point","shape":"triangle-right","filled":true,"color":"#000","opacity":1,"size":28},"encoding":{"x":{"field":"t","type":"quantitative"},"y":{"field":"v","type":"quantitative"}}},
 {"data":{"values":[{"lab":"(b)"}]},"mark":{"type":"text","align":"left","baseline":"top","dy":2},"encoding":{"x":{"datum":3.47},"y":{"datum":11},"text":{"field":"lab"}}}
 ]},
{"width":122,"height":120,
 "layer":[
 {"data":{"name":"tr"},"transform":[{"filter":"datum.p=='B1c'"}],"mark":{"type":"line","strokeWidth":2.5,"strokeJoin":"round"},
  "encoding":{"x":{"field":"t","type":"quantitative","scale":{"domain":[3.25,6.95],"nice":false,"zero":false},"axis":{"tickCount":37,"labelExpr":"abs(datum.value-0.5-round(datum.value-0.5))<0.001?format(datum.value,'.1f'):''","tickWidth":{"condition":{"test":"abs(datum.value-0.5-round(datum.value-0.5))<0.001","value":2},"value":1.2},"title":null}},
  "y":{"field":"v","type":"quantitative","scale":{"domain":[0,80],"nice":false},"axis":{"tickCount":40,"labelExpr":"abs(datum.value/10-round(datum.value/10))<0.001?format(datum.value,'d'):''","tickWidth":{"condition":{"test":"abs(datum.value/10-round(datum.value/10))<0.001","value":2},"value":1.2},"title":"Intensity (x10 cps)"}},
  "color":{"field":"s","type":"nominal","scale":{"domain":["g","p"],"range":["#8cc63f","#e2457e"]},"legend":null}}},
 {"data":{"name":"mk"},"transform":[{"filter":"datum.p=='B1c'"}],"mark":{"type":"point","shape":"triangle-right","filled":true,"color":"#000","opacity":1,"size":28},"encoding":{"x":{"field":"t","type":"quantitative"},"y":{"field":"v","type":"quantitative"}}},
 {"data":{"values":[{"lab":"(c)"}]},"mark":{"type":"text","align":"left","baseline":"top","dy":2},"encoding":{"x":{"datum":3.47},"y":{"datum":80},"text":{"field":"lab"}}}
 ]},
{"width":122,"height":120,
 "layer":[
 {"data":{"name":"tr"},"transform":[{"filter":"datum.p=='B1d'"}],"mark":{"type":"line","strokeWidth":2.5,"strokeJoin":"round"},
  "encoding":{"x":{"field":"t","type":"quantitative","scale":{"domain":[3.25,6.95],"nice":false,"zero":false},"axis":{"tickCount":37,"labelExpr":"abs(datum.value-0.5-round(datum.value-0.5))<0.001?format(datum.value,'.1f'):''","tickWidth":{"condition":{"test":"abs(datum.value-0.5-round(datum.value-0.5))<0.001","value":2},"value":1.2},"title":null}},
  "y":{"field":"v","type":"quantitative","scale":{"domain":[0,70],"nice":false},"axis":{"tickCount":35,"labelExpr":"abs(datum.value/10-round(datum.value/10))<0.001?format(datum.value,'d'):''","tickWidth":{"condition":{"test":"abs(datum.value/10-round(datum.value/10))<0.001","value":2},"value":1.2},"title":"Intensity (x10 cps)"}},
  "color":{"field":"s","type":"nominal","scale":{"domain":["g","p"],"range":["#8cc63f","#e2457e"]},"legend":null}}},
 {"data":{"name":"mk"},"transform":[{"filter":"datum.p=='B1d'"}],"mark":{"type":"point","shape":"triangle-right","filled":true,"color":"#000","opacity":1,"size":28},"encoding":{"x":{"field":"t","type":"quantitative"},"y":{"field":"v","type":"quantitative"}}},
 {"data":{"values":[{"lab":"(d)"}]},"mark":{"type":"text","align":"left","baseline":"top","dy":6},"encoding":{"x":{"datum":3.47},"y":{"datum":70},"text":{"field":"lab"}}}
 ]},
{"width":122,"height":120,
 "layer":[
 {"data":{"name":"tr"},"transform":[{"filter":"datum.p=='B2a'"}],"mark":{"type":"line","strokeWidth":2.5,"strokeJoin":"round"},
  "encoding":{"x":{"field":"t","type":"quantitative","scale":{"domain":[3.25,6.95],"nice":false,"zero":false},"axis":{"tickCount":37,"labelExpr":"abs(datum.value-0.5-round(datum.value-0.5))<0.001?format(datum.value,'.1f'):''","tickWidth":{"condition":{"test":"abs(datum.value-0.5-round(datum.value-0.5))<0.001","value":2},"value":1.2},"title":null}},
  "y":{"field":"v","type":"quantitative","scale":{"domain":[0,40],"nice":false},"axis":{"tickCount":20,"labelExpr":"abs(datum.value/10-round(datum.value/10))<0.001?format(datum.value,'d'):''","tickWidth":{"condition":{"test":"abs(datum.value/10-round(datum.value/10))<0.001","value":2},"value":1.2},"title":"Intensity (x10² cps)"}},
  "color":{"field":"s","type":"nominal","scale":{"domain":["g","p"],"range":["#8cc63f","#e2457e"]},"legend":null}}},
 {"data":{"name":"mk"},"transform":[{"filter":"datum.p=='B2a'"}],"mark":{"type":"point","shape":"triangle-right","filled":true,"color":"#000","opacity":1,"size":28},"encoding":{"x":{"field":"t","type":"quantitative"},"y":{"field":"v","type":"quantitative"}}}
 ]},
{"width":122,"height":120,
 "layer":[
 {"data":{"name":"tr"},"transform":[{"filter":"datum.p=='B2b'"}],"mark":{"type":"line","strokeWidth":2.5,"strokeJoin":"round"},
  "encoding":{"x":{"field":"t","type":"quantitative","scale":{"domain":[3.25,6.95],"nice":false,"zero":false},"axis":{"tickCount":37,"labelExpr":"abs(datum.value-0.5-round(datum.value-0.5))<0.001?format(datum.value,'.1f'):''","tickWidth":{"condition":{"test":"abs(datum.value-0.5-round(datum.value-0.5))<0.001","value":2},"value":1.2},"title":"Retention time (min)","titleX":111,"titleFontSize":16,"titleAlign":"center","titlePadding":0}},
  "y":{"field":"v","type":"quantitative","scale":{"domain":[0,35],"nice":false},"axis":{"tickCount":35,"labelExpr":"abs(datum.value/5-round(datum.value/5))<0.001?format(datum.value,'d'):''","tickWidth":{"condition":{"test":"abs(datum.value/5-round(datum.value/5))<0.001","value":2},"value":1.2},"title":"Intensity (x10² cps)"}},
  "color":{"field":"s","type":"nominal","scale":{"domain":["g","p"],"range":["#8cc63f","#e2457e"]},"legend":null}}},
 {"data":{"name":"mk"},"transform":[{"filter":"datum.p=='B2b'"}],"mark":{"type":"point","shape":"triangle-right","filled":true,"color":"#000","opacity":1,"size":28},"encoding":{"x":{"field":"t","type":"quantitative"},"y":{"field":"v","type":"quantitative"}}}
 ]},
{"width":122,"height":120,
 "layer":[
 {"data":{"name":"tr"},"transform":[{"filter":"datum.p=='B2c'"}],"mark":{"type":"line","strokeWidth":2.5,"strokeJoin":"round"},
  "encoding":{"x":{"field":"t","type":"quantitative","scale":{"domain":[3.25,6.95],"nice":false,"zero":false},"axis":{"tickCount":37,"labelExpr":"abs(datum.value-0.5-round(datum.value-0.5))<0.001?format(datum.value,'.1f'):''","tickWidth":{"condition":{"test":"abs(datum.value-0.5-round(datum.value-0.5))<0.001","value":2},"value":1.2},"title":null}},
  "y":{"field":"v","type":"quantitative","scale":{"domain":[0,40],"nice":false},"axis":{"tickCount":20,"labelExpr":"abs(datum.value/10-round(datum.value/10))<0.001?format(datum.value,'d'):''","tickWidth":{"condition":{"test":"abs(datum.value/10-round(datum.value/10))<0.001","value":2},"value":1.2},"title":"Intensity (x10² cps)"}},
  "color":{"field":"s","type":"nominal","scale":{"domain":["g","p"],"range":["#8cc63f","#e2457e"]},"legend":null}}},
 {"data":{"name":"mk"},"transform":[{"filter":"datum.p=='B2c'"}],"mark":{"type":"point","shape":"triangle-right","filled":true,"color":"#000","opacity":1,"size":28},"encoding":{"x":{"field":"t","type":"quantitative"},"y":{"field":"v","type":"quantitative"}}}
 ]},
{"width":122,"height":120,
 "layer":[
 {"data":{"name":"tr"},"transform":[{"filter":"datum.p=='B2d'"}],"mark":{"type":"line","strokeWidth":2.5,"strokeJoin":"round"},
  "encoding":{"x":{"field":"t","type":"quantitative","scale":{"domain":[3.25,6.95],"nice":false,"zero":false},"axis":{"tickCount":37,"labelExpr":"abs(datum.value-0.5-round(datum.value-0.5))<0.001?format(datum.value,'.1f'):''","tickWidth":{"condition":{"test":"abs(datum.value-0.5-round(datum.value-0.5))<0.001","value":2},"value":1.2},"title":null}},
  "y":{"field":"v","type":"quantitative","scale":{"domain":[0,20],"nice":false},"axis":{"tickCount":20,"labelExpr":"abs(datum.value/5-round(datum.value/5))<0.001?format(datum.value,'d'):''","tickWidth":{"condition":{"test":"abs(datum.value/5-round(datum.value/5))<0.001","value":2},"value":1.2},"title":"Intensity (x10² cps)"}},
  "color":{"field":"s","type":"nominal","scale":{"domain":["g","p"],"range":["#8cc63f","#e2457e"]},"legend":null}}},
 {"data":{"name":"mk"},"transform":[{"filter":"datum.p=='B2d'"}],"mark":{"type":"point","shape":"triangle-right","filled":true,"color":"#000","opacity":1,"size":28},"encoding":{"x":{"field":"t","type":"quantitative"},"y":{"field":"v","type":"quantitative"}}}
 ]}
],
"columns": 4,
"spacing": {"row": 54, "column": 29},
"bounds": "flush",
"align": "each",
"config": {
 "view": {"stroke": null},
 "axis": {"grid": false, "domainColor": "#000", "domainWidth": 1.5, "tickColor": "#000", "tickSize": 4, "labelFont": "Liberation Sans", "labelFontSize": 14, "labelFontWeight": "bold", "labelColor": "#000", "titleFont": "Liberation Sans", "titleFontSize": 13, "titleFontWeight": "bold", "titleColor": "#000", "labelOverlap": false, "labelFlush": false, "labelPadding": 1, "titlePadding": 1},
 "axisX": {"labelFontSize": 14.5, "labelPadding": 0},
 "title": {"font": "Liberation Sans", "fontSize": 17, "fontWeight": "bold", "color": "#000", "anchor": "start"},
 "text": {"font": "Liberation Sans", "fontSize": 13, "fontWeight": "bold", "color": "#000"}
}
}
